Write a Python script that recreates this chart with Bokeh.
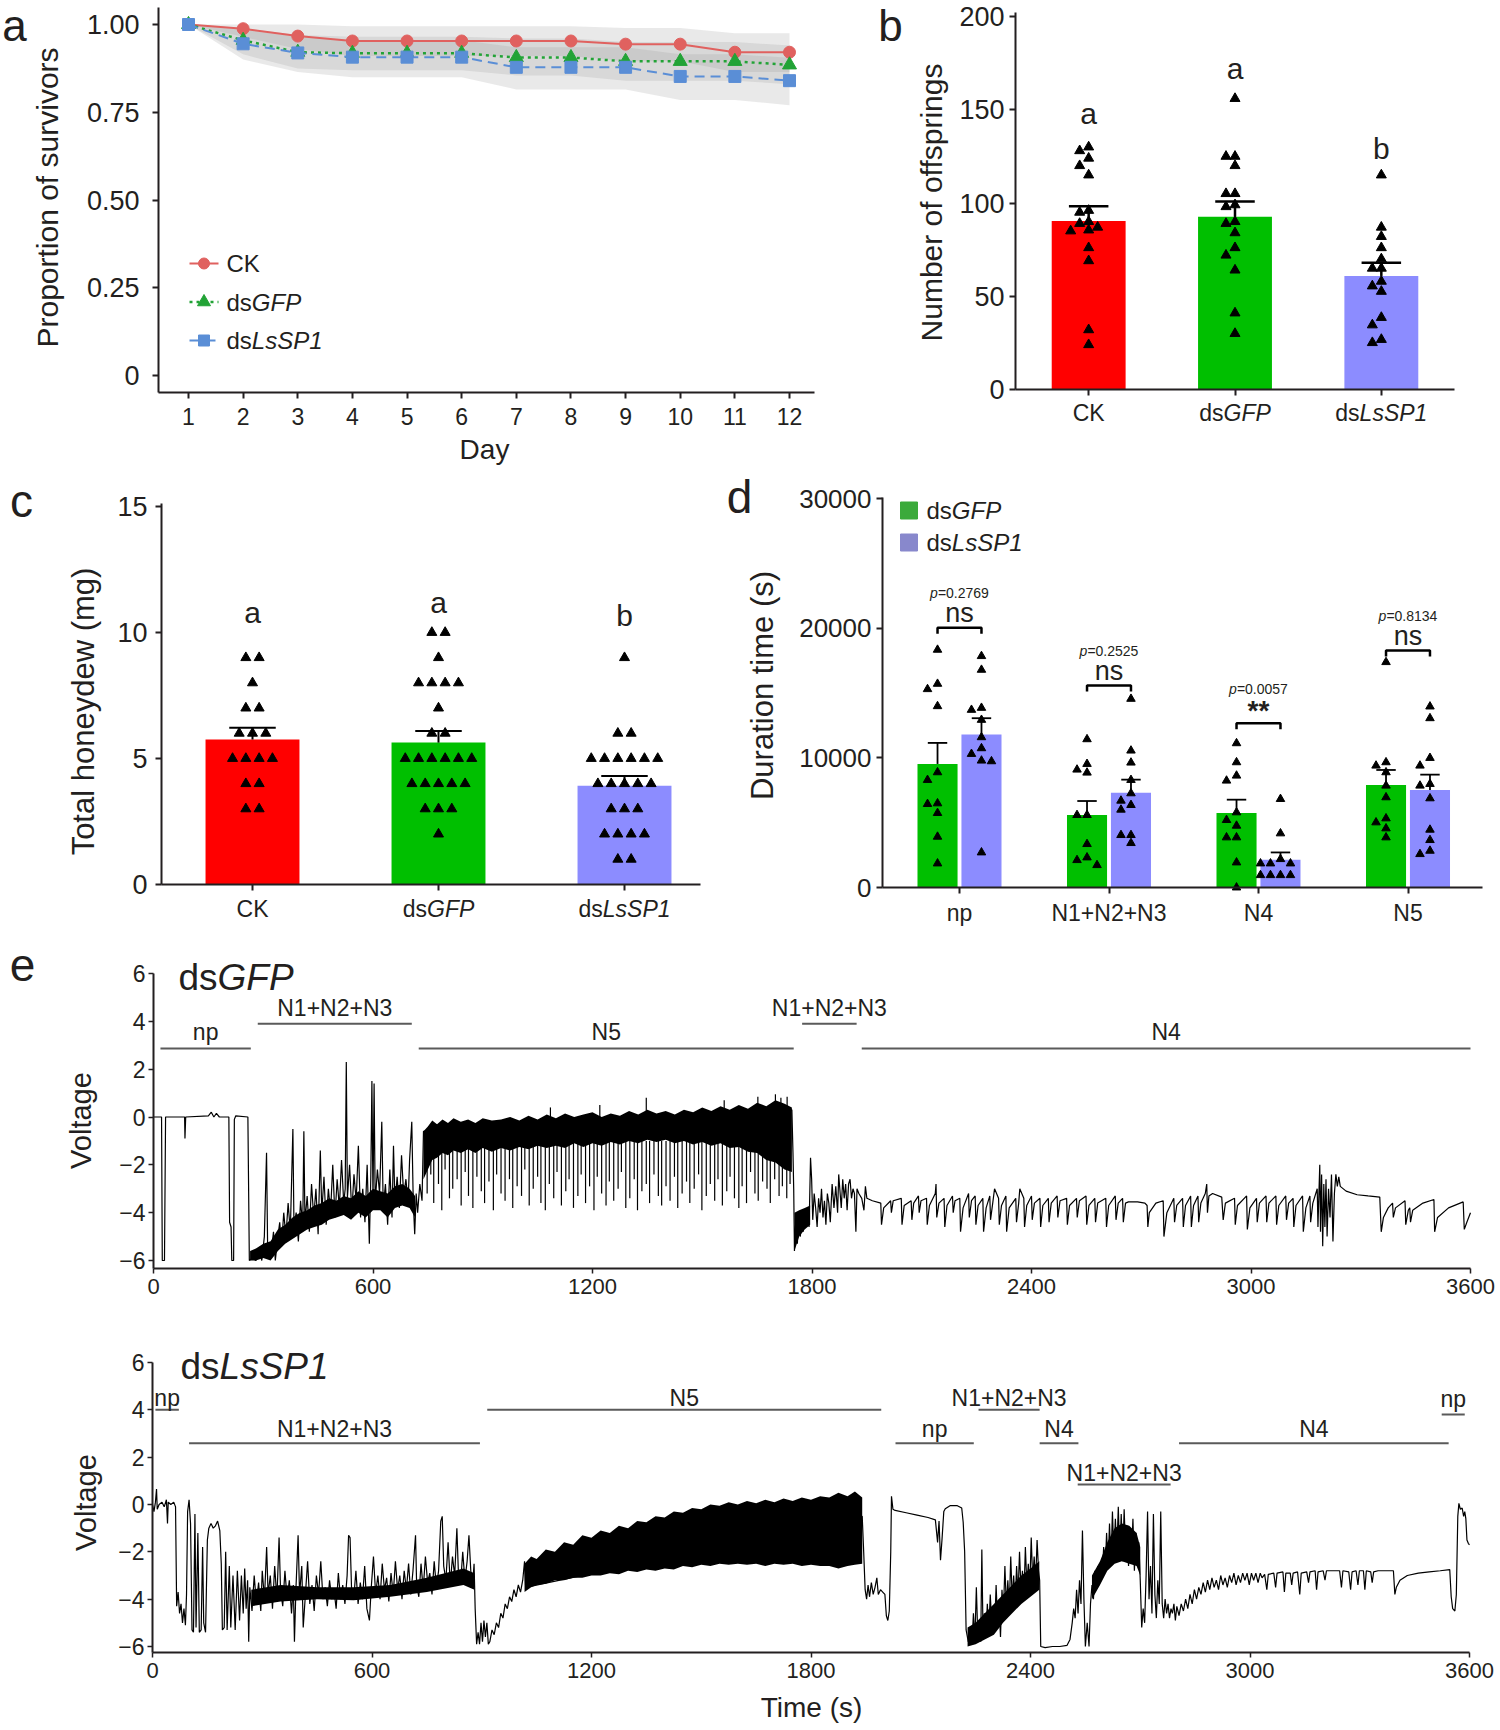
import math
from bokeh.plotting import figure
from bokeh.layouts import row, column
from bokeh.models import Label, FixedTicker, Range1d
from bokeh.core.properties import value
from bokeh.embed import file_html
from bokeh.resources import INLINE

# ======================= DATA =======================
# (a) survival
days = [1, 2, 3, 4, 5, 6, 7, 8, 9, 10, 11, 12]
surv_ck = [1.00, 0.988, 0.967, 0.953, 0.953, 0.953, 0.953, 0.953, 0.944, 0.944, 0.921, 0.921]
surv_gfp = [1.00, 0.955, 0.921, 0.918, 0.918, 0.918, 0.906, 0.906, 0.895, 0.895, 0.895, 0.885]
surv_ls = [1.00, 0.945, 0.919, 0.907, 0.907, 0.907, 0.878, 0.878, 0.878, 0.852, 0.852, 0.840]
ck_hi = [1.0, 1.0, 1.0, 0.995, 0.995, 0.995, 0.995, 0.995, 0.99, 0.99, 0.975, 0.975]
ck_lo = [1.0, 0.965, 0.93, 0.91, 0.91, 0.91, 0.91, 0.91, 0.895, 0.895, 0.865, 0.865]
gfp_hi = [1.0, 0.99, 0.97, 0.965, 0.965, 0.965, 0.96, 0.96, 0.95, 0.95, 0.95, 0.94]
gfp_lo = [1.0, 0.915, 0.875, 0.87, 0.87, 0.87, 0.855, 0.855, 0.84, 0.84, 0.84, 0.83]
ls_hi = [1.0, 0.985, 0.965, 0.955, 0.955, 0.955, 0.935, 0.935, 0.935, 0.915, 0.915, 0.905]
ls_lo = [1.0, 0.9, 0.865, 0.85, 0.85, 0.85, 0.815, 0.815, 0.815, 0.785, 0.785, 0.77]
surv_names = ["CK", "dsGFP", "dsLsSP1"]

# (b) offspring
groups = ["CK", "dsGFP", "dsLsSP1"]
off_mean = [90.3, 92.6, 60.9]
off_sem = [7.9, 8.2, 7.0]
off_letters = ["a", "a", "b"]
off_letter_y = [148, 172, 129]
off_ck = [130, 128, 124, 120, 115, 96, 95, 90, 89, 87, 85.5, 85, 76, 69, 32, 24]
off_gfp = [156, 125, 125, 120, 105, 105, 99, 98, 90, 89, 84, 76, 72, 64, 41, 30]
off_ls = [115, 87, 82, 76, 70, 65, 65, 58, 55.5, 52.6, 38.6, 34.6, 26.8, 25.1]

# (c) honeydew
honey_mean = [5.75, 5.63, 3.92]
honey_sem = [0.47, 0.46, 0.39]
honey_letters = ["a", "a", "b"]
honey_letter_y = [10.8, 11.2, 10.66]
honey_ck = [9, 9, 8, 7, 7, 6, 6, 6, 5, 5, 5, 5, 4, 4, 3, 3]
honey_gfp = [10, 10, 9, 8, 8, 8, 8, 7, 6, 6, 5, 5, 5, 5, 5, 5, 4, 4, 4, 4, 4, 3, 3, 3, 2]
honey_ls = [9, 6, 6, 5, 5, 5, 5, 5, 5, 4, 4, 4, 4, 4, 3, 3, 3, 2, 2, 2, 2, 1, 1]

# (d) EPG durations
phases = ["np", "N1+N2+N3", "N4", "N5"]
dur_gfp_mean = [9528, 5588, 5742, 7906]
dur_gfp_sem = [1622, 1082, 1031, 1158]
dur_ls_mean = [11794, 7313, 2137, 7519]
dur_ls_sem = [1262, 1005, 567, 1185]
dur_gfp_pts = [
    [18334, 15708, 15296, 13983, 8884, 8292, 6489, 6438, 5742, 3914, 1854],
    [11433, 9528, 9090, 8858, 5588, 5588, 3348, 2318, 2112, 1725],
    [11124, 9656, 8626, 8240, 5794, 5202, 4764, 3863, 3863, 1931, 0],
    [17381, 9656, 9399, 8884, 7854, 6953, 5330, 5021, 4558, 3863],
]
dur_ls_pts = [
    [17845, 16789, 13854, 13699, 12927, 11588, 10738, 10300, 9785, 9734, 2704],
    [14549, 10558, 9631, 8292, 7262, 6695, 6360, 6000, 4043, 4043, 3425],
    [6824, 4172, 2189, 1854, 1854, 1854, 953, 953, 953, 953],
    [13957, 13055, 9991, 9399, 7983, 7854, 6875, 4455, 3657, 2833, 2575],
]
p_values = ["0.2769", "0.2525", "0.0057", "0.8134"]
signif = ["ns", "ns", "**", "ns"]
bracket_y = [20034, 15579, 12669, 18283]

# (e) EPG traces (time s, voltage)
gfp_trace = [
    (0, 0.0), (22, 0.0), (24, -6.0), (30, -6.0), (33, 0.0), (85, 0.0), (86, -0.9), (88, 0.0), (150, 0.05),
    (158, 0.2), (165, 0.0), (172, 0.15), (180, 0.0), (206, 0.0), (208, -4.4), (212, -4.6), (214, -6.0),
    (219, -6.0), (221, -0.1), (225, 0.05), (258, 0.0), (262, -6.0),
    (270, -5.9), (280, -6.0), (290, -5.6), (296, -6.0), (303, -5.0), (309, -1.5), (312, -5.5), (320, -5.9),
    (328, -4.8), (333, -6.0), (340, -5.0), (345, -4.4), (350, -5.4), (356, -4.0), (362, -5.0), (368, -3.6),
    (374, -4.8), (381, -0.5), (384, -4.6), (390, -4.0), (396, -5.2), (402, -3.5), (408, -4.6), (411, -0.6),
    (414, -4.4), (420, -3.3), (426, -4.8), (432, -2.8), (438, -4.2), (444, -3.0), (450, -4.9), (456, -1.4),
    (460, -4.0), (466, -2.5), (472, -4.5), (478, -3.0), (484, -4.0), (490, -2.0), (496, -4.2), (502, -2.6),
    (508, -3.8), (514, -1.8), (520, -3.6), (524, -3.0), (527, 2.3), (530, -3.4), (536, -2.0), (542, -4.0),
    (548, -2.4), (554, -3.5), (560, -1.2), (566, -4.2), (572, -3.0), (578, -4.4), (584, -2.0), (590, -5.3),
    (594, -2.5), (597, 1.5), (600, -3.5), (603, 1.4), (606, -3.6), (612, -2.2), (618, -3.2), (624, -0.2),
    (628, -3.8), (634, -2.8), (640, -4.5), (646, -2.2), (652, -4.2), (656, -1.2), (660, -3.6), (666, -2.5),
    (672, -3.8), (678, -1.6), (684, -3.3), (690, -2.6), (696, -3.6), (700, -1.8), (706, -0.2), (710, -3.5),
    (714, -4.9), (718, -3.2), (722, -4.0), (728, -2.8), (734, -3.5), (738, -0.6), (1745, 0.3),
    (1748, -1.5), (1750, -3.0), (1752, -5.6), (1756, -4.2), (1760, -5.3), (1764, -4.0), (1768, -5.0),
    (1772, -4.3), (1776, -4.8), (1780, -4.0), (1784, -4.6), (1788, -4.1), (1792, -4.6), (1796, -1.7),
    (1799, -2.6), (1802, -4.3), (1806, -3.2), (1810, -3.8), (1814, -4.6), (1818, -3.4), (1822, -4.0),
    (1826, -3.0), (1830, -4.2), (1834, -3.5), (1838, -4.5), (1842, -3.2), (1846, -3.6), (1850, -4.4),
    (1855, -2.8), (1860, -3.8), (1865, -2.9), (1870, -4.0), (1873, -2.4), (1876, -3.0), (1880, -3.8),
    (1884, -2.6), (1888, -3.4), (1892, -2.8), (1896, -3.9), (1900, -2.8), (1904, -2.6), (1908, -3.4),
    (1912, -3.0), (1916, -3.2), (1920, -4.8), (1923, -3.0), (1928, -3.2), (1936, -3.4),
    (1942, -3.9), (1946, -2.9), (1950, -3.4), (1965, -3.5), (1988, -3.6), (1990, -4.5), (1996, -3.8),
    (2015, -3.5), (2017, -4.0), (2022, -3.5), (2044, -3.4), (2046, -4.5), (2052, -3.7), (2071, -3.5),
    (2073, -4.3), (2078, -3.6), (2091, -3.3), (2093, -4.0), (2098, -3.5), (2113, -3.4), (2115, -4.5),
    (2121, -3.7), (2137, -3.2), (2139, -2.8), (2141, -4.2), (2147, -3.6), (2161, -3.4), (2163, -4.6),
    (2169, -3.7), (2184, -3.3), (2186, -4.0), (2191, -3.5), (2204, -3.4), (2206, -4.8), (2213, -3.8),
    (2228, -3.2), (2230, -4.2), (2236, -3.5), (2246, -3.3), (2248, -4.5), (2254, -3.7), (2267, -3.4),
    (2269, -4.8), (2276, -3.8), (2286, -3.3), (2288, -4.3), (2294, -3.6), (2299, -3.0), (2310, -3.4),
    (2312, -4.5), (2318, -3.7), (2330, -3.3), (2332, -4.8), (2339, -3.8), (2357, -3.4), (2359, -4.4),
    (2365, -3.6), (2368, -3.0), (2379, -3.4), (2381, -4.6), (2387, -3.7), (2400, -3.3), (2402, -4.3),
    (2408, -3.6), (2423, -3.4), (2425, -4.6), (2431, -3.7), (2446, -3.4), (2448, -4.4), (2454, -3.6),
    (2470, -3.3), (2472, -4.2), (2478, -3.5), (2496, -3.4), (2498, -4.5), (2504, -3.7), (2523, -3.4),
    (2525, -4.2), (2531, -3.5), (2549, -3.3), (2551, -4.5), (2557, -3.7), (2573, -3.4), (2575, -4.4),
    (2581, -3.6), (2603, -3.4), (2605, -4.6), (2611, -3.7), (2629, -3.3), (2631, -4.3), (2637, -3.6),
    (2649, -3.4), (2651, -4.4), (2657, -3.6), (2665, -3.55), (2690, -3.55), (2710, -3.6), (2716, -3.7),
    (2718, -4.6), (2722, -4.0), (2740, -3.6), (2760, -3.5), (2762, -5.0), (2770, -4.0), (2789, -3.4),
    (2791, -4.4), (2797, -3.7), (2813, -3.4), (2815, -4.6), (2821, -3.7), (2835, -3.3), (2837, -4.6),
    (2843, -3.7), (2855, -3.3), (2857, -4.4), (2863, -3.6), (2875, -3.2), (2879, -2.8), (2881, -4.0),
    (2885, -3.3), (2895, -3.2), (2920, -3.35), (2924, -4.3), (2930, -3.6), (2955, -3.4), (2957, -4.5),
    (2963, -3.7), (2988, -3.3), (2990, -4.7), (2997, -3.8), (3015, -3.4), (3017, -4.4), (3023, -3.6),
    (3041, -3.3), (3043, -4.4), (3049, -3.6), (3068, -3.3), (3070, -4.5), (3076, -3.7), (3095, -3.3),
    (3097, -4.3), (3103, -3.6), (3115, -3.4), (3117, -4.6), (3123, -3.7), (3141, -3.3), (3143, -4.8),
    (3150, -3.8), (3161, -3.3), (3163, -4.4), (3169, -3.6), (3181, -3.0), (3183, -4.6), (3186, -3.0),
    (3188, -2.0), (3190, -4.8), (3193, -2.4), (3196, -5.4), (3199, -2.8), (3202, -4.6), (3205, -2.6),
    (3208, -5.0), (3212, -3.0), (3216, -4.2), (3220, -2.4), (3224, -5.2), (3228, -3.2), (3232, -2.4),
    (3236, -2.9), (3240, -2.5), (3244, -2.9), (3260, -3.1), (3290, -3.25), (3320, -3.3), (3352, -3.35),
    (3356, -4.8), (3362, -4.2), (3375, -3.8), (3387, -3.6), (3389, -4.2), (3395, -3.8), (3421, -3.5),
    (3423, -4.5), (3430, -3.9), (3434, -3.8), (3436, -4.4), (3442, -3.9), (3470, -3.6), (3500, -3.45),
    (3502, -4.8), (3510, -4.2), (3540, -3.8), (3580, -3.55), (3583, -4.7), (3590, -4.4), (3600, -4.0),
]
gfp_bands = [
    ([264, 280, 300, 320, 340, 360, 380, 400, 420, 440, 460, 480, 500, 520, 540, 560, 580, 600, 620, 640,
      660, 680, 700, 715],
     [-6.0, -6.0, -5.9, -6.0, -5.6, -5.3, -5.1, -4.9, -4.7, -4.6, -4.5, -4.3, -4.2, -4.1, -4.3, -4.0,
      -4.2, -3.9, -3.9, -4.2, -3.8, -3.7, -3.8, -4.2],
     [-5.6, -5.5, -5.3, -5.2, -4.7, -4.5, -4.2, -4.0, -3.9, -3.7, -3.6, -3.4, -3.5, -3.3, -3.4, -3.1,
      -3.3, -3.0, -3.1, -3.2, -2.9, -2.8, -3.0, -3.3]),
    ([738, 750, 762, 775, 790, 805, 820, 840, 860, 880, 900, 925, 950, 975, 1000, 1025, 1050, 1075, 1100,
      1125, 1150, 1175, 1200, 1225, 1250, 1275, 1300, 1325, 1350, 1375, 1400, 1425, 1450, 1475, 1500,
      1525, 1550, 1575, 1600, 1625, 1650, 1675, 1700, 1725, 1745],
     [-2.6, -2.2, -1.8, -1.7, -1.5, -1.6, -1.4, -1.5, -1.35, -1.5, -1.3, -1.45, -1.3, -1.4, -1.25, -1.35,
      -1.2, -1.3, -1.2, -1.3, -1.1, -1.25, -1.1, -1.2, -1.05, -1.15, -1.0, -1.1, -0.95, -1.05, -0.95,
      -1.1, -1.0, -1.15, -1.05, -1.2, -1.1, -1.3, -1.25, -1.45, -1.5, -1.8, -1.9, -2.2, -2.3],
     [-0.6, -0.4, -0.15, -0.3, -0.1, -0.25, -0.05, -0.2, -0.1, -0.25, -0.05, -0.15, -0.1, 0.0, -0.15,
      0.05, -0.1, 0.1, -0.05, 0.15, 0.0, 0.1, 0.2, 0.0, 0.15, 0.05, 0.25, 0.1, 0.3, 0.15, 0.25, 0.1, 0.3,
      0.2, 0.4, 0.25, 0.45, 0.3, 0.5, 0.35, 0.6, 0.45, 0.7, 0.55, 0.4]),
    ([1752, 1765, 1780, 1795],
     [-5.6, -5.0, -4.7, -4.5],
     [-4.0, -3.9, -3.8, -3.7]),
]
gfp_spike_t = [748, 758, 766, 779, 788, 797, 809, 818, 830, 841, 852, 861, 873, 884, 896, 905, 917, 929,
               938, 950, 961, 973, 982, 994, 1006, 1015, 1027, 1038, 1050, 1059, 1071, 1082, 1094, 1103,
               1115, 1127, 1136, 1148, 1160, 1169, 1181, 1192, 1204, 1213, 1225, 1237, 1246, 1258, 1270,
               1279, 1291, 1302, 1314, 1323, 1335, 1347, 1356, 1368, 1380, 1389, 1401, 1412, 1424, 1433,
               1445, 1457, 1466, 1478, 1490, 1499, 1511, 1522, 1534, 1543, 1555, 1567, 1576, 1588, 1600,
               1609, 1621, 1632, 1644, 1653, 1665, 1677, 1686, 1698, 1710, 1719, 1731, 1740]
gfp_spike_v = [-3.2, -2.4, -3.6, -2.8, -3.9, -2.2, -3.4, -3.0, -2.6, -3.7, -2.3, -3.3, -3.8, -2.5, -3.1,
               -3.6, -2.7, -3.9, -2.4, -3.2, -3.5, -2.6, -3.8, -2.9, -3.3, -2.2, -3.7, -3.0, -2.5, -3.6,
               -3.9, -2.8, -3.4, -2.3, -3.7, -3.1, -2.6, -3.8, -3.3, -2.4, -3.6, -2.9, -3.9, -2.5, -3.2,
               -3.7, -2.7, -3.5, -3.0, -2.3, -3.8, -3.4, -2.6, -3.9, -3.1, -2.8, -3.6, -2.4, -3.3, -3.7,
               -2.9, -3.5, -2.5, -3.8, -3.2, -2.7, -3.6, -3.0, -2.4, -3.9, -3.3, -2.8, -3.5, -2.6, -3.7,
               -3.1, -2.5, -3.4, -3.8, -2.9, -3.6, -2.3, -3.2, -3.5, -2.7, -3.0, -3.6, -2.6, -3.3, -2.9,
               -3.4, -2.8]
gfp_upspike_t = [1085, 1220, 1347, 1560, 1652, 1700, 1715, 1732]
gfp_upspike_v = [0.4, 0.5, 0.8, 0.7, 0.85, 0.95, 0.8, 0.85]

ls_trace = [
    (0, 0.0), (4, -0.3), (8, 0.1), (11, 0.65), (13, -0.2), (18, 0.0), (26, 0.1), (32, -0.1), (38, 0.2),
    (41, -0.8), (43, 0.1), (50, 0.0), (58, 0.1), (63, -0.1), (66, -4.3), (70, -3.7), (74, -4.6), (78, -4.2),
    (82, -5.0), (86, -4.4), (90, -5.1), (93, -3.8), (96, -0.3), (100, 0.2), (104, -0.8), (108, -5.3),
    (112, -5.4), (116, -0.4), (119, -5.2), (124, -1.2), (128, -5.4), (133, -5.3), (137, -1.8), (140, -5.0),
    (145, -5.4), (150, -1.5), (154, -1.0), (160, -0.8), (166, -1.0), (172, -0.9), (178, -0.7), (184, -1.1),
    (188, -2.5), (191, -5.3), (196, -5.2), (200, -2.0), (204, -5.3), (210, -2.6), (214, -5.2), (220, -3.0),
    (226, -5.3), (232, -2.8), (238, -4.9), (243, -3.0), (248, -4.6), (252, -2.7), (256, -4.4), (260, -3.2),
    (263, -5.8), (266, -3.5), (272, -4.5), (278, -3.0), (284, -4.2), (290, -3.3), (296, -4.5), (300, -2.8),
    (306, -4.0), (312, -1.8), (316, -3.8), (322, -3.0), (328, -4.4), (334, -2.6), (340, -4.0), (346, -1.4),
    (350, -3.6), (356, -4.3), (362, -2.8), (368, -4.0), (374, -3.2), (380, -4.6), (385, -3.4), (388, -5.8),
    (392, -3.6), (398, -1.3), (402, -3.8), (408, -2.6), (412, -5.2), (418, -3.8), (424, -2.4), (430, -4.2),
    (436, -3.4), (442, -4.5), (448, -3.0), (454, -3.8), (460, -2.4), (466, -4.0), (472, -3.5), (478, -4.3),
    (484, -3.2), (490, -4.0), (496, -3.6), (502, -4.4), (508, -2.9), (514, -4.0), (520, -3.4), (526, -4.2),
    (532, -3.0), (536, -1.3), (540, -1.4), (544, -3.5), (550, -4.0), (556, -2.8), (562, -4.2), (568, -3.3),
    (574, -4.0), (580, -2.6), (586, -4.4), (593, -4.9), (598, -3.5), (604, -2.2), (610, -3.8), (616, -3.0),
    (622, -4.0), (628, -2.5), (634, -3.6), (640, -3.1), (646, -4.1), (652, -2.9), (658, -3.8), (664, -2.4),
    (670, -3.6), (676, -3.0), (682, -4.0), (688, -2.8), (694, -3.6), (700, -2.5), (706, -3.8), (712, -2.8),
    (719, -1.3), (722, -3.4), (728, -3.9), (734, -2.5), (740, -3.6), (746, -2.2), (752, -3.3), (758, -2.9),
    (764, -3.8), (770, -2.4), (776, -3.5), (782, -2.8), (788, -0.7), (792, -0.5), (796, -2.6), (802, -3.2),
    (808, -1.6), (814, -3.4), (820, -2.2), (826, -3.0), (832, -1.0), (836, -2.8), (842, -3.4), (848, -2.0),
    (854, -3.2), (860, -2.4), (865, -1.3), (870, -2.8), (875, -3.4), (879, -2.5), (882, -4.4), (886, -5.9),
    (890, -5.4), (894, -5.9), (898, -5.0), (902, -5.8), (906, -4.9), (910, -5.6), (914, -5.0), (918, -5.9),
    (922, -5.8), (928, -5.3), (934, -5.5), (940, -5.0), (946, -5.2), (952, -4.6), (958, -4.8), (964, -4.2),
    (970, -4.4), (976, -3.9), (982, -4.1), (988, -3.6), (994, -3.9), (1000, -3.4), (1006, -3.7),
    (1012, -3.2), (1017, -2.4), (1020, -3.5), (1940, -0.5),
    (1944, -2.0), (1948, -3.6), (1952, -4.0), (1956, -3.4), (1960, -3.9), (1965, -3.3), (1970, -3.8),
    (1975, -3.5), (1980, -3.1), (1984, -3.8), (1990, -3.6), (1996, -3.7), (2002, -3.8), (2006, -4.7),
    (2010, -4.9), (2014, -4.5), (2018, -2.0), (2020, 0.35), (2024, -0.2), (2030, -0.25), (2060, -0.35),
    (2090, -0.45), (2120, -0.55), (2140, -0.65), (2146, -1.6), (2150, -0.7), (2154, -2.35), (2158, -1.5),
    (2163, -0.3), (2167, -0.18), (2180, -0.05), (2200, -0.05), (2212, -0.15), (2216, -0.75), (2220, -2.0),
    (2224, -5.3), (2230, -5.8), (2236, -5.4), (2240, -5.9), (2244, -4.6), (2248, -5.7), (2252, -3.5),
    (2256, -5.6), (2260, -5.0), (2264, -5.8), (2267, -1.9), (2270, -5.2), (2274, -4.6), (2278, -5.6),
    (2282, -4.2), (2286, -5.4), (2290, -3.8), (2294, -5.0), (2298, -4.4), (2302, -5.2), (2306, -3.4),
    (2310, -5.0), (2314, -4.2), (2318, -5.6), (2322, -3.6), (2326, -4.6), (2330, -2.6), (2334, -4.3),
    (2338, -3.2), (2342, -4.4), (2346, -2.2), (2350, -4.0), (2354, -3.0), (2358, -4.2), (2362, -2.6),
    (2366, -3.8), (2370, -2.0), (2374, -3.6), (2378, -2.8), (2382, -3.9), (2386, -1.8), (2390, -3.4),
    (2394, -2.5), (2398, -3.5), (2402, -1.4), (2406, -3.2), (2410, -2.2), (2414, -3.3), (2418, -1.5),
    (2422, -2.8), (2425, -3.2), (2428, -6.0), (2440, -6.05), (2460, -6.0), (2480, -6.0), (2500, -5.95),
    (2508, -5.7), (2514, -5.0), (2518, -4.4), (2522, -4.8), (2526, -3.6), (2530, -4.6), (2534, -3.2),
    (2538, -4.2), (2542, -1.1), (2546, -4.0), (2550, -6.0), (2555, -5.0), (2560, -6.0), (2564, -4.2),
    (2568, -3.4), (2572, -4.0), (2576, -2.8), (2580, -3.6), (2584, -2.6), (2588, -3.2), (2592, -2.4),
    (2596, -3.0), (2600, -1.8), (2604, -2.8), (2608, -1.2), (2612, -2.6), (2616, -0.8), (2620, -2.4),
    (2624, -0.3), (2628, -2.2), (2632, -0.6), (2636, -2.0), (2640, -0.1), (2644, -2.2), (2648, -0.4),
    (2652, -2.4), (2656, -0.2), (2660, -2.0), (2664, -0.9), (2668, -2.6), (2672, -1.0), (2676, -2.2),
    (2680, -0.6), (2684, -2.8), (2688, -1.2), (2692, -2.4), (2696, -1.6), (2700, -3.2), (2704, -5.2),
    (2708, -4.4), (2712, -5.0), (2716, -3.0), (2720, -0.3), (2724, -4.0), (2728, -2.6), (2732, -4.6),
    (2736, -0.4), (2740, -3.8), (2744, -4.8), (2748, -3.2), (2752, -4.2), (2756, -0.3), (2760, -4.2),
    (2764, -4.8), (2768, -4.0), (2772, -4.6), (2776, -4.2), (2780, -4.8), (2784, -4.4), (2788, -4.6),
    (2792, -4.2), (2796, -4.9), (2800, -4.3), (2806, -4.7), (2812, -4.2), (2818, -4.5), (2824, -4.0),
    (2830, -4.4), (2836, -3.8), (2842, -4.2), (2848, -3.6), (2854, -4.0), (2860, -3.5), (2866, -3.8),
    (2872, -3.3), (2878, -3.7), (2884, -3.2), (2890, -3.6), (2896, -3.1), (2902, -3.5), (2908, -3.2),
    (2914, -3.6), (2920, -3.0), (2926, -3.4), (2932, -3.1), (2938, -3.5), (2944, -3.0), (2950, -3.3),
    (2956, -2.9), (2962, -3.4), (2968, -3.0), (2974, -3.3), (2980, -2.9), (2986, -3.2), (2992, -2.9),
    (2998, -3.4), (3004, -2.9), (3010, -3.2), (3016, -2.9), (3022, -3.3), (3028, -2.9), (3033, -3.1),
    (3040, -2.95), (3046, -3.6), (3050, -2.95), (3065, -2.9), (3070, -3.5), (3074, -2.9), (3090, -2.85),
    (3094, -3.7), (3098, -2.9), (3110, -2.9), (3114, -3.4), (3118, -2.9), (3130, -2.85), (3136, -3.8),
    (3140, -2.9), (3155, -2.85), (3160, -3.3), (3164, -2.85), (3178, -2.8), (3182, -3.6), (3186, -2.85),
    (3200, -2.8), (3205, -3.2), (3209, -2.8), (3225, -2.8), (3245, -2.8), (3250, -3.5), (3254, -2.8),
    (3270, -2.85), (3275, -3.6), (3279, -2.85), (3290, -2.8), (3295, -3.4), (3299, -2.8), (3310, -2.8),
    (3314, -3.6), (3318, -2.8), (3330, -2.85), (3334, -3.3), (3338, -2.85), (3350, -2.8), (3392, -2.8),
    (3396, -3.8), (3400, -3.5), (3410, -3.2), (3430, -3.0), (3460, -2.9), (3490, -2.85), (3520, -2.8),
    (3546, -2.75), (3550, -3.9), (3554, -4.4), (3560, -4.5), (3564, -3.8), (3568, -0.5), (3571, 0.05),
    (3575, -0.2), (3580, -0.15), (3584, -0.5), (3587, -0.3), (3590, -0.6), (3593, -1.5), (3597, -1.65),
    (3600, -1.7),
]
ls_bands = [
    ([270, 350, 450, 550, 650, 750, 850, 880],
     [-4.3, -4.1, -4.0, -4.05, -3.9, -3.7, -3.4, -3.6],
     [-3.6, -3.4, -3.5, -3.5, -3.4, -3.1, -2.7, -2.9]),
    ([1017, 1035, 1050, 1075, 1100, 1125, 1150, 1175, 1200, 1225, 1250, 1275, 1300, 1325, 1350, 1375,
      1400, 1425, 1450, 1475, 1500, 1525, 1550, 1575, 1600, 1625, 1650, 1675, 1700, 1725, 1750, 1775,
      1800, 1825, 1850, 1875, 1900, 1920, 1940],
     [-3.7, -3.5, -3.4, -3.35, -3.2, -3.2, -3.1, -3.1, -3.0, -3.0, -2.9, -2.95, -2.8, -2.85, -2.75, -2.8,
      -2.7, -2.75, -2.6, -2.65, -2.55, -2.6, -2.5, -2.55, -2.5, -2.55, -2.5, -2.6, -2.5, -2.55, -2.5,
      -2.6, -2.55, -2.6, -2.6, -2.7, -2.6, -2.55, -2.5],
     [-2.5, -2.2, -2.3, -1.9, -2.0, -1.6, -1.7, -1.3, -1.4, -1.1, -1.2, -0.9, -1.0, -0.7, -0.75, -0.5,
      -0.55, -0.3, -0.35, -0.15, -0.2, 0.0, -0.05, 0.1, 0.0, 0.15, 0.05, 0.2, 0.1, 0.25, 0.15, 0.3, 0.2,
      0.35, 0.3, 0.5, 0.35, 0.55, 0.3]),
    ([2228, 2250, 2275, 2300, 2325, 2350, 2375, 2400, 2424],
     [-6.0, -5.9, -5.7, -5.5, -5.0, -4.6, -4.2, -3.9, -3.6],
     [-5.2, -5.0, -4.6, -4.2, -3.8, -3.4, -3.0, -2.7, -2.4]),
    ([2568, 2590, 2610, 2630, 2650, 2670, 2690, 2700],
     [-4.0, -3.4, -2.8, -2.5, -2.4, -2.5, -2.6, -3.0],
     [-3.0, -2.4, -1.6, -1.0, -0.8, -0.9, -1.2, -1.8]),
]

# phase annotations: (label, start s, end s)
gfp_phase_low = [("np", 19, 266), ("N5", 725, 1750), ("N4", 1936, 3600)]
gfp_phase_high = [("N1+N2+N3", 285, 706), ("N1+N2+N3", 1773, 1922)]
ls_phase_top = [("np", 8, 72), ("N5", 915, 1992), ("N1+N2+N3", 2258, 2425)]
ls_phase_mid = [("N1+N2+N3", 100, 895), ("np", 2031, 2245), ("N4", 2425, 2531), ("N4", 2806, 3543)]
ls_phase_low = [("N1+N2+N3", 2529, 2783)]
ls_phase_end = [("np", 3524, 3587)]

# ======================= STYLE / HELPERS =======================
FONT = "Liberation Sans"
TXT = "#231F20"
C_RED, C_GRN, C_BLU = "#FF0000", "#00BF00", "#8C8CFF"
C_CK, C_GFP, C_LS = "#E0615F", "#22A336", "#5A8ED6"

AW = {" ": 278, "C": 722, "K": 667, "d": 556, "s": 500, "G": 778, "F": 611, "P": 667, "L": 556,
      "S": 667, "p": 556, "=": 584, ".": 278, "n": 556, "N": 722, "+": 584, "*": 389}


def tw(s, size):
    return sum(AW.get(c, 556) for c in s) * size / 1000.0


def name_parts(n):
    return [("ds", "normal"), (n[2:], "italic")] if n.startswith("ds") else [(n, "normal")]


def add_text(p, x, y, text, size, align="center", baseline="middle", style="normal", angle=0.0,
             color=TXT, x_offset=0):
    p.add_layout(Label(x=x, y=y, text=text, text_font=FONT, text_font_size=f"{size}px",
                       text_font_style=style, text_align=align, text_baseline=baseline,
                       angle=angle, text_color=color, x_offset=x_offset))


def add_mixed(p, x, y, parts, size, align="center", baseline="middle"):
    total = sum(tw(t, size) for t, _ in parts)
    off = -total / 2 if align == "center" else (0 if align == "left" else -total)
    for t, st in parts:
        add_text(p, x, y, t, size, align="left", baseline=baseline, style=st, x_offset=off)
        off += tw(t, size)


def lin(pa_, va, pb_, vb):
    s = (vb - va) / float(pb_ - pa_)
    return lambda px: va + (px - pa_) * s


def make_fig(canvas, xcal, ycal, yaxis_px, yaxis_span, xaxis_py, xaxis_span, ytick_size, xtick_size):
    cx0, cy0, cx1, cy1 = canvas
    X = lin(*xcal)
    Y = lin(*ycal)
    p = figure(width=cx1 - cx0, height=cy1 - cy0, x_range=Range1d(X(cx0), X(cx1)),
               y_range=Range1d(Y(cy1), Y(cy0)), title=None, output_backend="svg",
               toolbar_location=None, tools="", min_border=0, min_border_left=0, min_border_right=0,
               min_border_top=0, min_border_bottom=0)
    p.grid.visible = False
    p.outline_line_color = None
    p.background_fill_color = "white"
    p.border_fill_color = "white"
    for ax in (p.xaxis[0], p.yaxis[0]):
        ax.axis_line_width = 2
        ax.axis_line_color = TXT
        ax.major_tick_line_width = 2
        ax.major_tick_line_color = TXT
        ax.major_tick_out = 6
        ax.major_tick_in = 0
        ax.minor_tick_line_color = None
        ax.major_label_text_font = FONT
        ax.major_label_text_color = TXT
    p.yaxis.fixed_location = X(yaxis_px)
    p.yaxis.bounds = (Y(yaxis_span[1]), Y(yaxis_span[0]))
    p.xaxis.fixed_location = Y(xaxis_py)
    p.xaxis.bounds = (X(xaxis_span[0]), X(xaxis_span[1]))
    p.yaxis.major_label_text_font_size = f"{ytick_size}px"
    p.xaxis.major_label_text_font_size = f"{xtick_size}px"
    return p, X, Y


def swarm(vals, ypx, xpx, step, mindy):
    placed, offs = [], []
    for v in vals:
        y = v * ypx
        for k in (0, -1, 1, -2, 2, -3, 3):
            x = k * step
            if all(abs(x - px) >= step * 0.99 or abs(y - py) >= mindy for px, py in placed):
                break
        placed.append((x, y))
        offs.append(x / xpx)
    return offs


def sym(vals, spacing):
    counts = {}
    for v in vals:
        counts[v] = counts.get(v, 0) + 1
    seen, offs = {}, []
    for v in vals:
        i = seen.get(v, 0)
        seen[v] = i + 1
        offs.append((i - (counts[v] - 1) / 2) * spacing)
    return offs


ROW1_BOTTOM = 467
ROW2_BOTTOM = 930

# ======================= (a) =======================
pa, AX, AY = make_fig((0, 0, 838, ROW1_BOTTOM), (188, 1, 789, 12), (375, 0, 24, 1.0),
                      158, (7, 392), 392, (158, 814), 27, 23)
pa.xaxis.ticker = FixedTicker(ticks=days)
pa.yaxis.ticker = FixedTicker(ticks=[0, 0.25, 0.5, 0.75, 1.0])
pa.yaxis.major_label_overrides = {0: "0", 0.25: "0.25", 0.5: "0.50", 0.75: "0.75", 1: "1.00"}
pa.yaxis.major_label_standoff = 13
pa.xaxis.major_label_standoff = 9
for lo, hi in [(ck_lo, ck_hi), (gfp_lo, gfp_hi), (ls_lo, ls_hi)]:
    pa.varea(x=days, y1=lo, y2=hi, fill_color="#999999", fill_alpha=0.22)
series = [(surv_ck, C_CK, "circle", 12, None, 2), (surv_gfp, C_GFP, "triangle", 14, "3 4", 2.5),
          (surv_ls, C_LS, "square", 12, "10 6", 2)]
for i, (ys, col, mk, sz, dash, lw) in enumerate(series):
    ly = AY(263 + 38.5 * i)
    for xx, yy in [(days, ys), ([AX(189), AX(218)], [ly, ly])]:
        if dash:
            pa.line(xx, yy, line_color=col, line_width=lw, line_dash=dash)
        else:
            pa.line(xx, yy, line_color=col, line_width=lw)
    pa.scatter(days, ys, marker=mk, size=sz, color=col)
    pa.scatter([AX(203.5)], [ly], marker=mk, size=sz - 1, color=col)
    add_mixed(pa, AX(226), ly, name_parts(surv_names[i]), 24, align="left")
add_text(pa, AX(47), AY(197), "Proportion of survivors", 30, angle=math.pi / 2)
add_text(pa, AX(484), AY(449), "Day", 28)
add_text(pa, AX(14), AY(25), "a", 44)

# ======================= (b) =======================
pb, BX, BY = make_fig((838, 0, 1496, ROW1_BOTTOM), (1015, 0.5, 1454, 3.5), (389, 0, 16, 200),
                      1015, (12, 389), 389, (1015, 1454), 27, 23)
xs = [1, 2, 3]
pb.xaxis.ticker = FixedTicker(ticks=xs)
pb.xaxis.major_label_overrides = {1: " ", 2: " ", 3: " "}
pb.yaxis.ticker = FixedTicker(ticks=[0, 50, 100, 150, 200])
pb.yaxis.major_label_standoff = 5
pb.vbar(x=xs, top=off_mean, width=0.505, fill_color=[C_RED, C_GRN, C_BLU], line_color=None)
tops = [m + s for m, s in zip(off_mean, off_sem)]
pb.segment(x0=xs, y0=off_mean, x1=xs, y1=tops, line_color="black", line_width=2.5)
pb.segment(x0=[x - 0.135 for x in xs], y0=tops, x1=[x + 0.135 for x in xs], y1=tops,
           line_color="black", line_width=2.5)
for i, pts in enumerate([off_ck, off_gfp, off_ls]):
    offs = swarm(pts, 1.865, 146.33, 9, 8)
    pb.scatter([xs[i] + o for o in offs], pts, marker="triangle", size=10, color="black")
pb.text(x=xs, y=off_letter_y, text=off_letters, text_font=value(FONT), text_font_size=value("30px"),
        text_align="center", text_baseline="middle", text_color=TXT)
for i, g in enumerate(groups):
    add_mixed(pb, xs[i], BY(412), name_parts(g), 23)
add_text(pb, BX(931), BY(202), "Number of offsprings", 30, angle=math.pi / 2)
add_text(pb, BX(890), BY(25), "b", 44)

# ======================= (c) =======================
pc, CX, CY = make_fig((0, ROW1_BOTTOM, 720, ROW2_BOTTOM), (252, 1, 624, 3), (884, 0, 506, 15),
                      161, (503, 884), 884, (161, 700), 27, 23)
pc.xaxis.ticker = FixedTicker(ticks=xs)
pc.xaxis.major_label_overrides = {1: " ", 2: " ", 3: " "}
pc.yaxis.ticker = FixedTicker(ticks=[0, 5, 10, 15])
pc.yaxis.major_label_standoff = 8
pc.vbar(x=xs, top=honey_mean, width=0.505, fill_color=[C_RED, C_GRN, C_BLU], line_color=None)
tops = [m + s for m, s in zip(honey_mean, honey_sem)]
pc.segment(x0=xs, y0=honey_mean, x1=xs, y1=tops, line_color="black", line_width=2)
pc.segment(x0=[x - 0.125 for x in xs], y0=tops, x1=[x + 0.125 for x in xs], y1=tops,
           line_color="black", line_width=2)
for i, pts in enumerate([honey_ck, honey_gfp, honey_ls]):
    offs = sym(pts, 0.0715)
    pc.scatter([xs[i] + o for o in offs], pts, marker="triangle", size=10, color="black")
pc.text(x=xs, y=honey_letter_y, text=honey_letters, text_font=value(FONT),
        text_font_size=value("30px"), text_align="center", text_baseline="middle", text_color=TXT)
for i, g in enumerate(groups):
    add_mixed(pc, xs[i], CY(908), name_parts(g), 23)
add_text(pc, CX(83), CY(711), "Total honeydew (mg)", 31, angle=math.pi / 2)
add_text(pc, CX(21), CY(500), "c", 46)

# ======================= (d) =======================
pdd, DX, DY = make_fig((720, ROW1_BOTTOM, 1496, ROW2_BOTTOM), (959, 1, 1407.5, 4), (887, 0, 498, 30000),
                       882, (497, 887), 887, (882, 1482), 26, 23)
gx = [1, 2, 3, 4]
pdd.xaxis.ticker = FixedTicker(ticks=gx)
pdd.xaxis.major_label_overrides = {i + 1: ph for i, ph in enumerate(phases)}
pdd.xaxis.major_label_standoff = 6
pdd.yaxis.ticker = FixedTicker(ticks=[0, 10000, 20000, 30000])
pdd.yaxis.major_label_standoff = 5
OFF, BW = 0.147, 0.268
for sgn, means, sems, col, ptsl in [(-1, dur_gfp_mean, dur_gfp_sem, C_GRN, dur_gfp_pts),
                                    (1, dur_ls_mean, dur_ls_sem, C_BLU, dur_ls_pts)]:
    bxs = [g + sgn * OFF for g in gx]
    pdd.vbar(x=bxs, top=means, width=BW, fill_color=col, line_color=None)
    tp = [m + s for m, s in zip(means, sems)]
    pdd.segment(x0=bxs, y0=means, x1=bxs, y1=tp, line_color="black", line_width=1.8)
    pdd.segment(x0=[b - 0.065 for b in bxs], y0=tp, x1=[b + 0.065 for b in bxs], y1=tp,
                line_color="black", line_width=1.8)
    for i, pts in enumerate(ptsl):
        offs = swarm(pts, 389 / 30000.0, 149.5, 10, 8)
        pdd.scatter([bxs[i] + o for o in offs], pts, marker="triangle", size=8.5, color="black")
for i, g in enumerate(gx):
    y = bracket_y[i]
    pdd.line([g - OFF, g - OFF, g + OFF, g + OFF], [y - 470, y, y, y - 470], line_color="black",
             line_width=2.5)
    if signif[i] == "**":
        pdd.text(x=[g], y=[y + 1000], text=[signif[i]], text_font=value(FONT),
                 text_font_size=value("28px"), text_font_style="bold", text_align="center",
                 text_baseline="middle", text_color=TXT)
    else:
        pdd.text(x=[g], y=[y + 1150], text=[signif[i]], text_font=value(FONT),
                 text_font_size=value("27px"), text_align="center", text_baseline="middle",
                 text_color=TXT)
    add_mixed(pdd, g, y + 2650, [("p", "italic"), ("=" + p_values[i], "normal")], 14)
leg_cols = ["#3BAA3B", "#8888CC"]
for j, nm in enumerate(["dsGFP", "dsLsSP1"]):
    yy = DY(510 + 32 * j)
    pdd.scatter([DX(908.5)], [yy], marker="square", size=17, color=leg_cols[j])
    add_mixed(pdd, DX(926), yy, name_parts(nm), 24, align="left")
add_text(pdd, DX(762), DY(685), "Duration time (s)", 31, angle=math.pi / 2)
add_text(pdd, DX(739), DY(496), "d", 46)


# ======================= (e) =======================
def trace_fig(canvas, xcal, ycal, yaxis_px, yaxis_span, xaxis_py, xaxis_span):
    p, X, Y = make_fig(canvas, xcal, ycal, yaxis_px, yaxis_span, xaxis_py, xaxis_span, 23, 22)
    p.xaxis.ticker = FixedTicker(ticks=[0, 600, 1200, 1800, 2400, 3000, 3600])
    p.yaxis.ticker = FixedTicker(ticks=[-6, -4, -2, 0, 2, 4, 6])
    for ax in (p.xaxis[0], p.yaxis[0]):
        ax.major_tick_out = 5
        ax.major_tick_line_width = 1.5
    p.yaxis.major_label_standoff = 3
    p.xaxis.major_label_standoff = 5
    return p, X, Y


def draw_trace(p, trace, bands):
    for t, lo, hi in bands:
        p.varea(x=t, y1=lo, y2=hi, fill_color="black")
    p.line([a for a, _ in trace], [b for _, b in trace], line_color="black", line_width=1.2)


def phase(p, items, y_line, y_text):
    for name, s, e in items:
        p.line([s, e], [y_line, y_line], line_color="#5A5A5A", line_width=2)
        p.text(x=[(s + e) / 2], y=[y_text], text=[name], text_font=value(FONT),
               text_font_size=value("23px"), text_align="center", text_baseline="middle",
               text_color=TXT)


pe1, E1X, E1Y = trace_fig((0, ROW2_BOTTOM, 1496, 1318), (153, 0, 1470, 3600), (973, 6, 1260, -6),
                          153, (973, 1268), 1268, (153, 1470))
draw_trace(pe1, gfp_trace, gfp_bands)
pe1.segment(x0=gfp_spike_t, y0=[-1.0] * len(gfp_spike_t), x1=gfp_spike_t, y1=gfp_spike_v,
            line_color="black", line_width=1.2)
pe1.segment(x0=gfp_upspike_t, y0=[0.0] * len(gfp_upspike_t), x1=gfp_upspike_t, y1=gfp_upspike_v,
            line_color="black", line_width=1.2)
phase(pe1, gfp_phase_low, 2.865, 3.55)
phase(pe1, gfp_phase_high, 3.9, 4.55)
add_mixed(pe1, E1X(178), E1Y(977), name_parts("dsGFP"), 37, align="left")
add_text(pe1, E1X(80), E1Y(1120), "Voltage", 29, angle=math.pi / 2)
add_text(pe1, E1X(22), E1Y(964), "e", 46)

pe2, E2X, E2Y = trace_fig((0, 1318, 1496, 1726), (152, 0, 1469, 3600), (1362, 6, 1646, -6),
                          152, (1362, 1652), 1652, (152, 1469))
draw_trace(pe2, ls_trace, ls_bands)
phase(pe2, ls_phase_mid, 2.59, 3.2)
phase(pe2, ls_phase_low, 0.85, 1.32)
phase(pe2, ls_phase_end, 3.8, 4.47)
phase(pe2, ls_phase_top, 4.0, 4.5)
add_mixed(pe2, E2X(180), E2Y(1366), name_parts("dsLsSP1"), 37, align="left")
add_text(pe2, E2X(85), E2Y(1502), "Voltage", 29, angle=math.pi / 2)
add_text(pe2, E2X(811), E2Y(1707), "Time (s)", 28)

layout = column(row(pa, pb), row(pc, pdd), pe1, pe2)
open("out.html", "w").write(file_html(layout, INLINE))
